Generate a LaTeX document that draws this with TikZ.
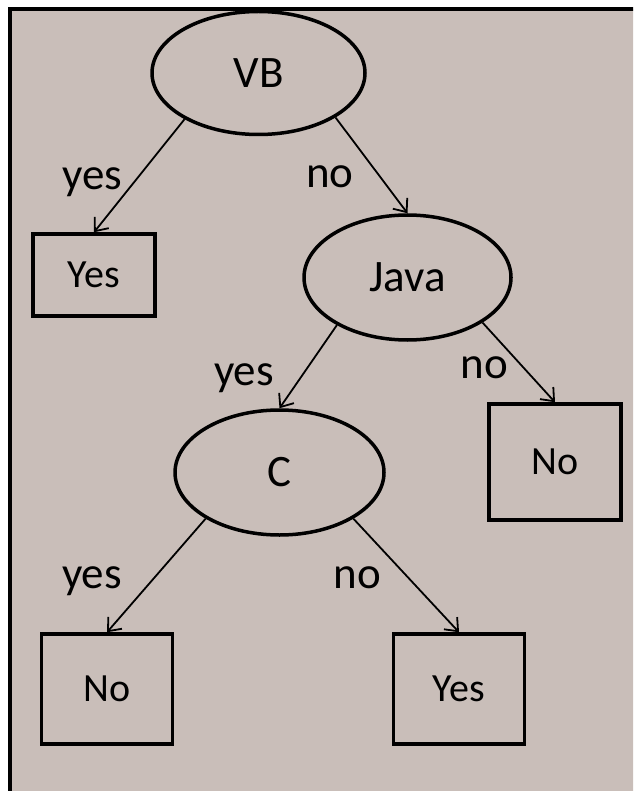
\documentclass[tikz,border=0pt]{standalone}
\usepackage{fontspec}
\setmainfont{Carlito}
\usetikzlibrary{arrows.meta,shapes.geometric}
\definecolor{panel}{RGB}{201,190,185}
\begin{document}
\begin{tikzpicture}[x=1pt,y=-1pt,
  test/.style={ellipse, draw, line width=3.5pt, inner sep=0pt,
               font=\fontsize{45}{45}\selectfont},
  leaf/.style={rectangle, draw, line width=3.5pt, inner sep=0pt,
               font=\fontsize{40}{40}\selectfont},
  branch/.style={line width=1.8pt,
               -{Straight Barb[length=11pt,width=18pt,line width=1.8pt]}},
  lab/.style={font=\fontsize{45}{45}\selectfont, inner sep=0pt, anchor=base}]
\useasboundingbox (0,0) rectangle (633,791);
\clip (0,0) rectangle (633,791);
% panel with frame running off the right and bottom edges
\draw[fill=panel, line width=4pt] (9.5,9.5) rectangle (700,900);

% decision nodes
\node[test, minimum width=213pt, minimum height=123pt] (vb) at (258.5,73) {VB};
\node[test, minimum width=207pt, minimum height=125pt] (java) at (407.5,277.5) {Java};
\node[test, minimum width=209pt, minimum height=125pt] (c) at (279.5,472.5) {C};

% leaves
\node[leaf, minimum width=122pt, minimum height=82pt] (yes1) at (94,275) {Yes};
\node[leaf, minimum width=132pt, minimum height=116pt] (no1) at (555,462) {No};
\node[leaf, minimum width=131pt, minimum height=110pt] (no2) at (107,689) {No};
\node[leaf, minimum width=131pt, minimum height=110pt] (yes2) at (459,689) {Yes};

% branches
\draw[branch] (vb.212) -- (yes1.north);
\draw[branch] (vb.-30) -- (java.north);
\draw[branch] (java.214) -- (c.north);
\draw[branch] (java.-31) -- (no1.north);
\draw[branch] (c.212) -- (no2.north);
\draw[branch] (c.-32) -- (yes2.north);

% branch labels
\node[lab] (l1) at (92.5,190) {yes};
\node[lab] (l2) at (330,188) {no};
\node[lab] (l3) at (244,385) {yes};
\node[lab] (l4) at (484.5,378) {no};
\node[lab] (l5) at (92,588) {yes};
\node[lab] (l6) at (357.5,588) {no};
\end{tikzpicture}
\end{document}
